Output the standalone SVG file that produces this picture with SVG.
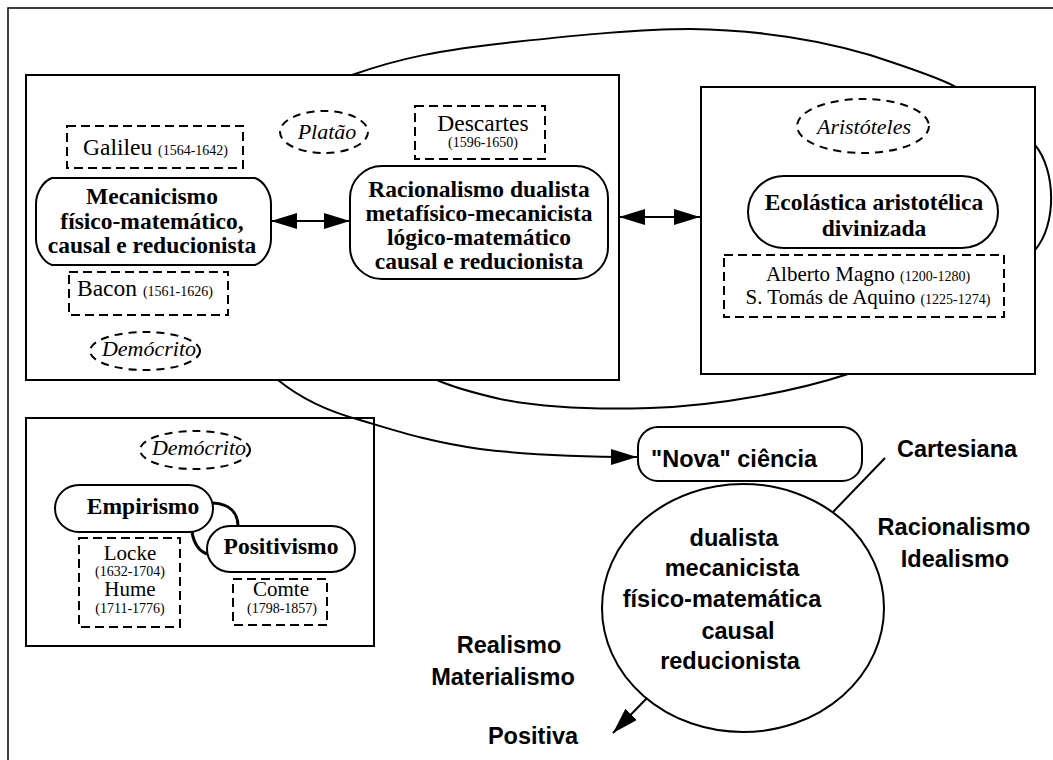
<svg xmlns="http://www.w3.org/2000/svg" width="1053" height="760" viewBox="0 0 1053 760">
<defs>
<style>
.box{fill:none;stroke:#000;stroke-width:2}
.node{fill:#fff;stroke:#000;stroke-width:2}
.dash{fill:none;stroke:#000;stroke-width:2;stroke-dasharray:9 5}
.dell{fill:none;stroke:#000;stroke-width:2;stroke-dasharray:8 6}
.curve{fill:none;stroke:#000;stroke-width:2}
.link{fill:none;stroke:#000;stroke-width:3}
.sb{font-family:"Liberation Serif","Times New Roman",serif;font-weight:bold;font-size:23.5px;text-anchor:middle}
.sr{font-family:"Liberation Serif","Times New Roman",serif;font-size:23.5px}
.sn{font-family:"Liberation Serif","Times New Roman",serif;font-size:21px;text-anchor:middle}
.yr{font-size:14px}
.yc{font-family:"Liberation Serif","Times New Roman",serif;font-size:14px;text-anchor:middle}
.si{font-family:"Liberation Serif","Times New Roman",serif;font-style:italic;font-size:22px;text-anchor:middle}
.ab{font-family:"Liberation Sans",Arial,sans-serif;font-weight:bold;font-size:23.5px;text-anchor:middle}
</style>
<marker id="ah" viewBox="0 0 26 16" refX="26" refY="8" markerWidth="26" markerHeight="16" markerUnits="userSpaceOnUse" orient="auto-start-reverse">
<path d="M0,0 L26,8 L0,16 Z" fill="#000"/>
</marker>
</defs>
<rect width="1053" height="760" fill="#fff"/>
<path d="M8,760 V8 H1053" fill="none" stroke="#000" stroke-width="1.5"/>

<g id="connectors">
<path class="curve" d="M352,75 C400,58 440,50 514,42 C580,35 640,29 690,29 C760,30 820,40 870,55 C910,68 940,78 956,87"/>
<path class="curve" d="M1035,145 C1056,170 1057,225 1035,250"/>
<path class="curve" d="M848,374 C800,390 720,406 650,408 C590,410 540,407 500,399 C470,392 450,386 437,380"/>
<path class="curve" d="M278,380 C300,398 330,412 360,420 C400,432 430,442 480,449 C530,455 580,457 637,457" marker-end="url(#ah)"/>
<line class="curve" x1="271" y1="221" x2="350" y2="221" marker-start="url(#ah)" marker-end="url(#ah)"/>
<line class="curve" x1="619" y1="217" x2="700" y2="217" marker-start="url(#ah)" marker-end="url(#ah)"/>
<line class="curve" x1="885" y1="458" x2="833" y2="512"/>
<line class="curve" x1="647" y1="698" x2="613" y2="733" marker-end="url(#ah)"/>
<path class="link" d="M213,503 C230,504 238,513 238,526"/>
<path class="link" d="M192,532 C194,544 199,551 207,554"/>
</g>

<g id="main-box"><rect class="box" x="26" y="75" width="593" height="305"/></g>
<g id="right-box"><rect class="box" x="701" y="87" width="334" height="287"/></g>
<g id="empirismo-box"><rect class="box" x="26" y="418" width="348" height="228"/></g>

<g id="galileu">
<rect class="dash" x="67" y="126" width="176" height="42"/>
<text class="sr" x="83" y="155">Galileu <tspan class="yr">(1564-1642)</tspan></text>
</g>
<g id="platao">
<ellipse class="dell" cx="324" cy="132" rx="44" ry="21"/>
<text class="si" x="327" y="139">Platão</text>
</g>
<g id="descartes">
<rect class="dash" x="415" y="106" width="130" height="53"/>
<text class="sr" x="483" y="131" text-anchor="middle">Descartes</text>
<text class="yc" x="483" y="147">(1596-1650)</text>
</g>
<g id="mecanicismo">
<path class="node" d="M52,178 H255 C264,181 271,193 271,204 V239 C271,250 264,262 255,265 H52 C43,262 36,250 36,239 V204 C36,193 43,181 52,178 Z"/>
<text class="sb" x="152" y="204">Mecanicismo</text>
<text class="sb" x="152" y="228.5">físico-matemático,</text>
<text class="sb" x="152" y="253">causal e reducionista</text>
</g>
<g id="racionalismo">
<rect class="node" x="350" y="166" width="258" height="113" rx="32" ry="32"/>
<text class="sb" x="479" y="197">Racionalismo dualista</text>
<text class="sb" x="479" y="221">metafísico-mecanicista</text>
<text class="sb" x="479" y="245">lógico-matemático</text>
<text class="sb" x="479" y="269">causal e reducionista</text>
</g>
<g id="bacon">
<rect class="dash" x="69" y="272" width="159" height="43"/>
<text class="sr" x="77" y="296">Bacon <tspan class="yr">(1561-1626)</tspan></text>
</g>
<g id="democrito-1">
<ellipse class="dell" cx="145" cy="351" rx="55" ry="19"/>
<text class="si" x="149" y="356">Demócrito</text>
</g>
<g id="aristoteles">
<ellipse class="dell" cx="863" cy="126" rx="66" ry="27"/>
<text class="si" x="864" y="134">Aristóteles</text>
</g>
<g id="escolastica">
<rect class="node" x="748" y="176" width="250" height="72" rx="36" ry="36"/>
<text class="sb" x="874" y="210">Ecolástica aristotélica</text>
<text class="sb" x="874" y="236">divinizada</text>
</g>
<g id="escolasticos">
<rect class="dash" x="724" y="255" width="280" height="62"/>
<text class="sn" x="868" y="281">Alberto Magno <tspan class="yr">(1200-1280)</tspan></text>
<text class="sn" x="868" y="304">S. Tomás de Aquino <tspan class="yr">(1225-1274)</tspan></text>
</g>
<g id="democrito-2">
<ellipse class="dell" cx="195" cy="450" rx="55" ry="19"/>
<text class="si" x="199" y="455">Demócrito</text>
</g>
<g id="empirismo">
<rect class="node" x="55" y="485" width="158" height="47" rx="24" ry="23.5"/>
<text class="sb" x="143" y="514">Empirismo</text>
</g>
<g id="positivismo">
<rect class="node" x="207" y="526" width="148" height="46" rx="23" ry="23"/>
<text class="sb" x="281" y="554">Positivismo</text>
</g>
<g id="locke-hume">
<rect class="dash" x="79" y="538" width="101" height="89"/>
<text class="sn" x="130" y="560">Locke</text>
<text class="yc" x="130" y="576">(1632-1704)</text>
<text class="sn" x="130" y="596">Hume</text>
<text class="yc" x="130" y="613">(1711-1776)</text>
</g>
<g id="comte">
<rect class="dash" x="233" y="579" width="94" height="46"/>
<text class="sn" x="281" y="596">Comte</text>
<text class="yc" x="282" y="613">(1798-1857)</text>
</g>
<g id="nova-ciencia">
<rect class="node" x="638" y="427" width="224" height="54" rx="20" ry="20"/>
<text class="ab" x="734" y="467">"Nova" ciência</text>
</g>
<g id="circulo">
<ellipse class="node" cx="743" cy="608" rx="141" ry="124"/>
<text class="ab" x="734" y="546">dualista</text>
<text class="ab" x="732" y="576">mecanicista</text>
<text class="ab" x="722" y="607">físico-matemática</text>
<text class="ab" x="738" y="639">causal</text>
<text class="ab" x="730" y="669">reducionista</text>
</g>
<g id="labels">
<text class="ab" x="957" y="457">Cartesiana</text>
<text class="ab" x="954" y="535">Racionalismo</text>
<text class="ab" x="955" y="567">Idealismo</text>
<text class="ab" x="509" y="653">Realismo</text>
<text class="ab" x="503" y="685">Materialismo</text>
<text class="ab" x="533" y="744">Positiva</text>
</g>
</svg>
